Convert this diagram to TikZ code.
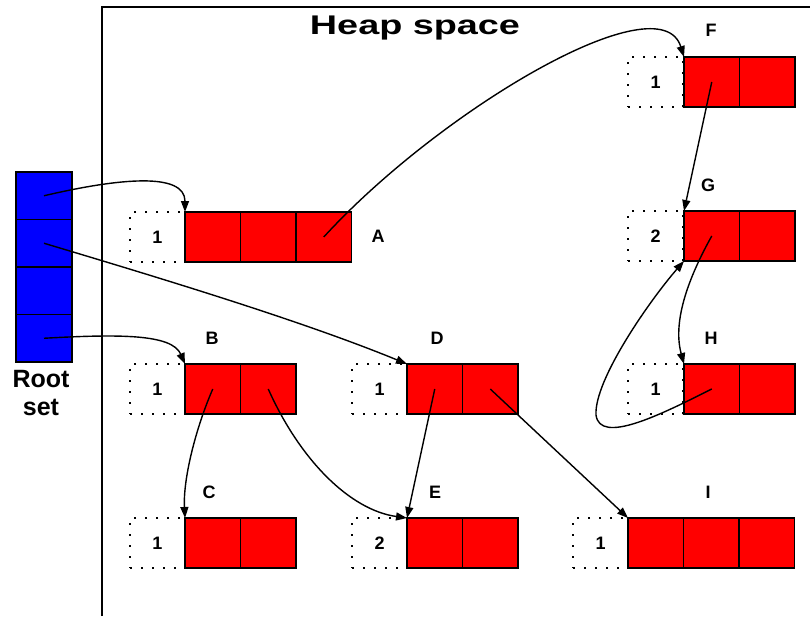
\documentclass[tikz,border=0pt]{standalone}
\usepackage{fontspec}
\setmainfont{Liberation Sans}
\usetikzlibrary{arrows.meta}
\begin{document}
\begin{tikzpicture}[x=1pt,y=-1pt,
  cell/.style={draw=black,fill=red,line width=1.3pt,minimum width=55.5pt,minimum height=50pt,inner sep=0pt,outer sep=0pt,anchor=north west},
  cnt/.style={draw=black,dash pattern=on 1.6pt off 9.4pt,line width=1.6pt,minimum width=55pt,minimum height=50pt,inner sep=0pt,outer sep=0pt,anchor=north west,font=\bfseries\fontsize{18}{18}\selectfont},
  rcell/.style={draw=black,fill=blue,line width=1.3pt,minimum width=56pt,minimum height=47.5pt,inner sep=0pt,outer sep=0pt,anchor=north west},
  lbl/.style={font=\bfseries\fontsize{18}{18}\selectfont,inner sep=0pt},
  link/.style={draw=black,line width=1.4pt,-{Triangle[length=11pt,width=8pt]}}]
\useasboundingbox (0,0) rectangle (810,616);
% heap frame
\draw[line width=2pt] (102,616) -- (102,7) -- (812,7);
\node[font=\bfseries\fontsize{27}{27}\selectfont,inner sep=0pt,anchor=base] (heap) at (415,34) {\scalebox{1.4}[1]{Heap space}};
% root set
\node[rcell] (R1) at (16,172) {};
\node[rcell] (R2) at (16,219.5) {};
\node[rcell] (R3) at (16,267) {};
\node[rcell] (R4) at (16,314.5) {};
\node[font=\bfseries\fontsize{25}{28}\selectfont,align=center,inner sep=0pt,anchor=base] (rootlbl) at (41,415) {Root\\set};
% A
\node[cnt] (Ac) at (130,212) {1};
\node[cell] (A1) at (185,212) {};
\node[cell] (A2) at (240.5,212) {};
\node[cell] (A3) at (296,212) {};
\node[lbl] (Al) at (378,236) {A};
% B
\node[cnt] (Bc) at (130,364) {1};
\node[cell] (B1) at (185,364) {};
\node[cell] (B2) at (240.5,364) {};
\node[lbl] (Bl) at (212,338) {B};
% C
\node[cnt] (Cc) at (130,518) {1};
\node[cell] (C1) at (185,518) {};
\node[cell] (C2) at (240.5,518) {};
\node[lbl] (Cl) at (209,492) {C};
% D
\node[cnt] (Dc) at (352,364) {1};
\node[cell] (D1) at (407,364) {};
\node[cell] (D2) at (462.5,364) {};
\node[lbl] (Dl) at (437,338) {D};
% E
\node[cnt] (Ec) at (352,518) {2};
\node[cell] (E1) at (407,518) {};
\node[cell] (E2) at (462.5,518) {};
\node[lbl] (El) at (435,492) {E};
% I
\node[cnt] (Ic) at (573,518) {1};
\node[cell] (I1) at (628,518) {};
\node[cell] (I2) at (683.5,518) {};
\node[cell] (I3) at (739,518) {};
\node[lbl] (Il) at (708,492) {I};
% F
\node[cnt] (Fc) at (628,57) {1};
\node[cell] (F1) at (684,57) {};
\node[cell] (F2) at (739.5,57) {};
\node[lbl] (Fl) at (711,30) {F};
% G
\node[cnt] (Gc) at (628,211) {2};
\node[cell] (G1) at (684,211) {};
\node[cell] (G2) at (739.5,211) {};
\node[lbl] (Gl) at (708,185) {G};
% H
\node[cnt] (Hc) at (628,364) {1};
\node[cell] (H1) at (684,364) {};
\node[cell] (H2) at (739.5,364) {};
\node[lbl] (Hl) at (711,338) {H};
% connectors
\draw[link] (R1.center) .. controls (120,178) and (185,172) .. (A1.north west);
\draw[link] (R2.center) .. controls (150,275) and (300,320) .. (D1.north west);
\draw[link] (R4.center) .. controls (120,334) and (172,334) .. (B1.north west);
\draw[link] (A3.center) .. controls (440,110) and (660,-20) .. (F1.north west);
\draw[link] (F1.center) -- (G1.north west);
\draw[link] (G1.center) .. controls (690,275) and (672,320) .. (H1.north west);
\coordinate (loop) at (596,415);
\draw[link] (H1.center) .. controls (660,415) and (600,445) .. (loop) .. controls (594,380) and (650,300) .. (G1.south west);
\draw[link] (B1.center) .. controls (195,430) and (183,480) .. (C1.north west);
\draw[link] (B2.center) .. controls (300,460) and (350,510) .. (E1.north west);
\draw[link] (D1.center) -- (E1.north west);
\draw[link] (D2.center) -- (I1.north west);
\end{tikzpicture}
\end{document}
